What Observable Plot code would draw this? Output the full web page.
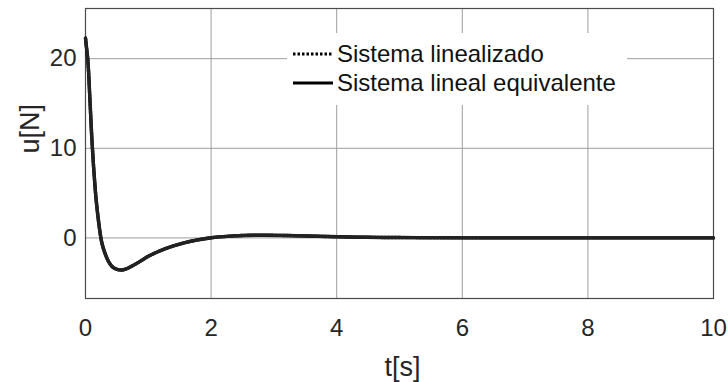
<!DOCTYPE html>
<html><head><meta charset="utf-8">
<script src="https://cdn.jsdelivr.net/npm/d3@7"></script>
<script src="https://cdn.jsdelivr.net/npm/@observablehq/plot@0.6"></script>
<style>body{margin:0;background:#fff}#chart{width:728px;height:382px}</style>
</head><body><div id="chart"></div>
<script>
const t = [0, 0.02, 0.04, 0.07, 0.1, 0.13, 0.16, 0.2, 0.25, 0.3, 0.35, 0.4, 0.45, 0.5, 0.57, 0.65, 0.75, 0.85, 1.0, 1.2, 1.4, 1.6, 1.8, 2.0, 2.3, 2.7, 3.2, 3.7, 4.2, 5, 6, 7, 8, 9, 10];
const uLinealizado = [22.3, 21.0, 19.6, 15.5, 11.2, 7.8, 5.0, 2.3, -0.2, -1.5, -2.4, -3.0, -3.35, -3.5, -3.58, -3.45, -3.1, -2.7, -2.05, -1.4, -0.9, -0.5, -0.2, 0.02, 0.2, 0.3, 0.27, 0.18, 0.1, 0.04, 0.01, 0, 0, 0, 0];
const uEquivalente = [22.3, 21.0, 19.6, 15.5, 11.2, 7.8, 5.0, 2.3, -0.2, -1.5, -2.4, -3.0, -3.35, -3.5, -3.58, -3.45, -3.1, -2.7, -2.05, -1.4, -0.9, -0.5, -0.2, 0.02, 0.2, 0.3, 0.27, 0.18, 0.1, 0.04, 0.01, 0, 0, 0, 0];
const seriesNames = ["Sistema linealizado", "Sistema lineal equivalente"];
const xTicks = [0, 2, 4, 6, 8, 10];
const yTicks = [0, 10, 20];
const xLabel = "t[s]";
const yLabel = "u[N]";

const dataA = t.map((v, i) => ({t: v, u: uLinealizado[i]}));
const dataB = t.map((v, i) => ({t: v, u: uEquivalente[i]}));
const font = "'Liberation Sans', Arial, sans-serif";

const svg = Plot.plot({
  width: 728, height: 382,
  marginLeft: 85, marginRight: 15, marginTop: 8, marginBottom: 84,
  style: {fontFamily: font, color: "#262626", background: "white"},
  x: {domain: [0, 10]},
  y: {domain: [-6.76, 25.6]},
  marks: [
    Plot.gridX(xTicks, {stroke: "#9e9e9e", strokeOpacity: 1}),
    Plot.gridY(yTicks, {stroke: "#9e9e9e", strokeOpacity: 1}),
    Plot.frame({stroke: "#4a4a4a", strokeWidth: 1.2}),
    Plot.axisX({ticks: xTicks, tickSize: 0, tickPadding: 20, fontSize: 24, label: null, fill: "#262626"}),
    Plot.axisY({ticks: yTicks, tickSize: 0, tickPadding: 9, fontSize: 24, label: null, fill: "#262626"}),
    Plot.text([xLabel], {frameAnchor: "bottom", text: d => d, dy: 58, dx: 3, lineAnchor: "top", fontSize: 27, fill: "#262626"}),
    Plot.text([yLabel], {frameAnchor: "left", text: d => d, dx: -55, rotate: -90, lineAnchor: "middle", fontSize: 27, fill: "#262626"}),
    Plot.line(dataB, {x: "t", y: "u", stroke: "black", strokeWidth: 3.4, curve: "monotone-x"}),
    Plot.line(dataA, {x: "t", y: "u", stroke: "#222", strokeWidth: 3.4, strokeDasharray: "2,1.5", curve: "monotone-x"})
  ]
});

// Legend inside the axes (MATLAB style, white background, no border)
const g = d3.select(svg).append("g")
  .attr("font-family", font).attr("font-size", 24).attr("fill", "#111").attr("text-anchor", "start");
g.append("rect").attr("x", 287).attr("y", 33).attr("width", 340).attr("height", 72).attr("fill", "white");
const rows = [{name: seriesNames[0], dash: "2.5,2", y: 54}, {name: seriesNames[1], dash: null, y: 83}];
rows.forEach(r => {
  const ln = g.append("line").attr("x1", 293).attr("x2", 333).attr("y1", r.y).attr("y2", r.y)
    .attr("stroke", "black").attr("stroke-width", 3);
  if (r.dash) ln.attr("stroke-dasharray", r.dash);
  g.append("text").attr("x", 337).attr("y", r.y + 8).attr("text-anchor", "start").text(r.name);
});

document.getElementById("chart").appendChild(svg);
</script>
</body></html>
